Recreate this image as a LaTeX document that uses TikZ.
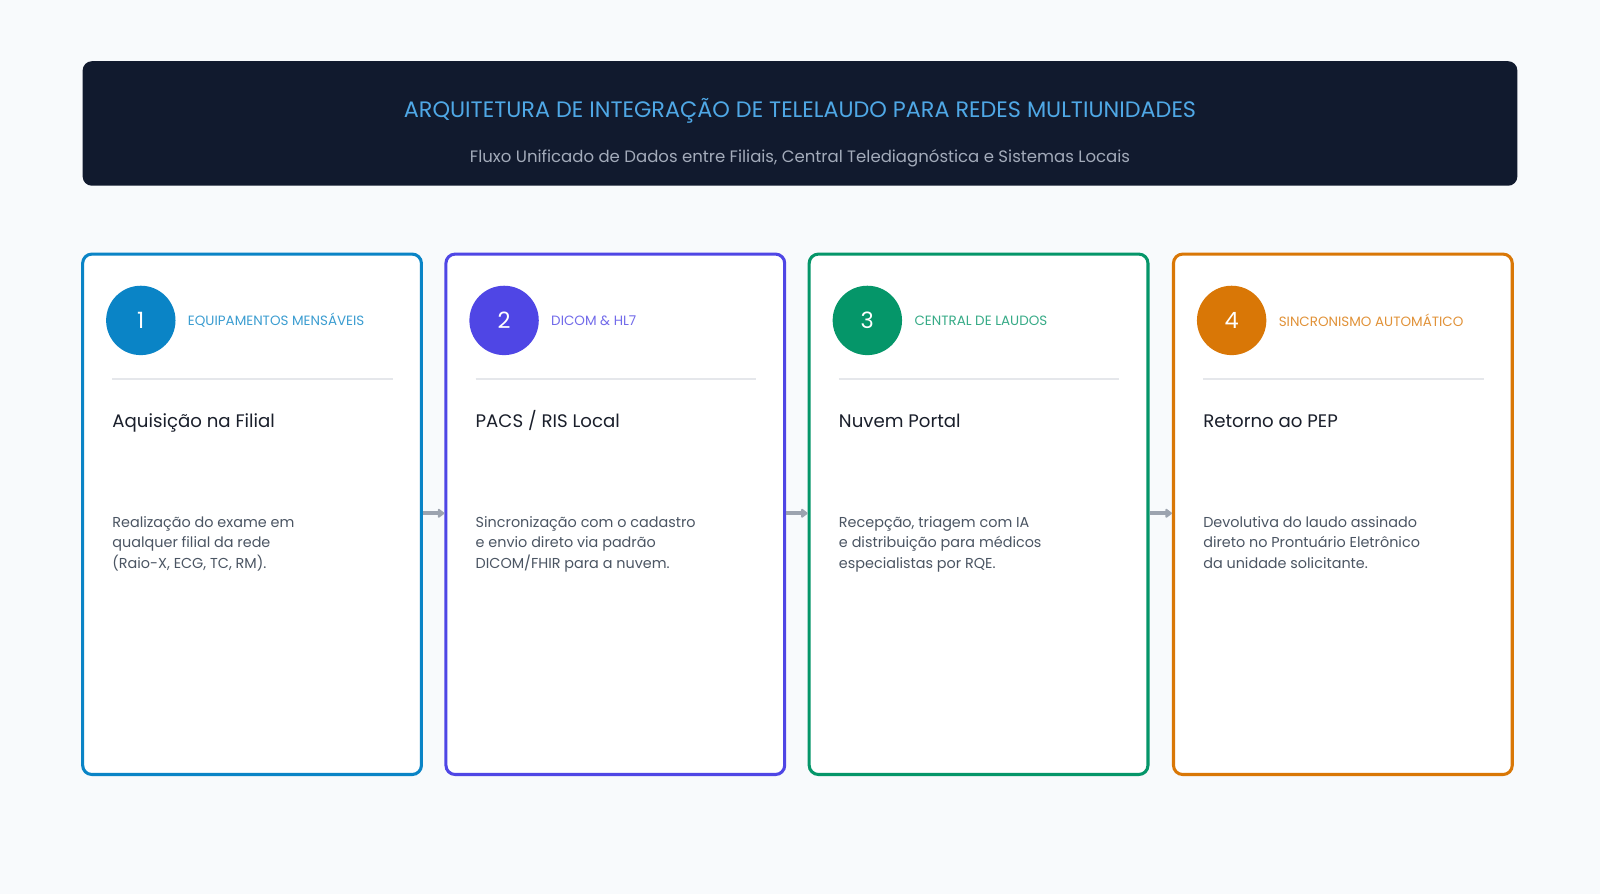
\documentclass[tikz,border=0pt]{standalone}
\usepackage{fontspec}
\setmainfont{Poppins}
\usetikzlibrary{arrows.meta}
\definecolor{bg}{HTML}{F8FAFC}
\definecolor{navy}{HTML}{111A2E}
\definecolor{titleblue}{HTML}{4FA8E6}
\definecolor{subgray}{HTML}{A3ABBA}
\definecolor{cA}{HTML}{0A84C6}
\definecolor{cB}{HTML}{4F46E5}
\definecolor{cC}{HTML}{059669}
\definecolor{cD}{HTML}{D97706}
\definecolor{divgray}{HTML}{E5E7EB}
\definecolor{ttl}{HTML}{1A1F2B}
\definecolor{desc}{HTML}{4B5563}
\definecolor{arrowgray}{HTML}{9CA3AF}
\tikzset{
  card/.style={draw=#1, line width=3pt, rounded corners=9pt, fill=white},
  badge/.style={circle, fill=#1, minimum size=68pt, inner sep=0pt, text=white, font=\fontsize{22}{26}\selectfont},
  tag/.style={anchor=west, text=#1, font=\fontsize{13.2}{16}\selectfont, inner sep=0pt},
  cardtitle/.style={anchor=base west, text=ttl, font=\fontsize{17.8}{21}\selectfont, inner sep=0pt},
  cardtext/.style={anchor=north west, text=desc, font=\fontsize{14.1}{20}\selectfont, align=left, inner sep=0pt},
  flow/.style={-{Triangle[length=7pt,width=10pt,round]}, draw=arrowgray, line width=3.5pt},
  divider/.style={draw=divgray, line width=2pt}
}
\begin{document}
\begin{tikzpicture}[x=1pt,y=-1pt]
\useasboundingbox (0,0) rectangle (1568,876);
\fill[bg] (0,0) rectangle (1568,876);
% header
\node[fill=navy, rounded corners=9pt, minimum width=1406pt, minimum height=122pt, inner sep=0pt] (header) at (784,121) {};
\node[text=titleblue, font=\fontsize{21.9}{26}\selectfont] (title) at (784,109) {ARQUITETURA DE INTEGRAÇÃO DE TELELAUDO PARA REDES MULTIUNIDADES};
\node[text=subgray, font=\fontsize{16.2}{19}\selectfont] (subtitle) at (784,155) {Fluxo Unificado de Dados entre Filiais, Central Telediagnóstica e Sistemas Locais};
% cards
\foreach \i/\xx/\c/\num/\tagtext/\ttext/\dtext in {
  1/80/cA/1/{EQUIPAMENTOS MENSÁVEIS}/{Aquisição na Filial}/{Realização do exame em\\qualquer filial da rede\\(Raio-X, ECG, TC, RM).},
  2/436/cB/2/{DICOM \& HL7}/{PACS / RIS Local}/{Sincronização com o cadastro\\e envio direto via padrão\\DICOM/FHIR para a nuvem.},
  3/792/cC/3/{CENTRAL DE LAUDOS}/{Nuvem Portal}/{Recepção, triagem com IA\\e distribuição para médicos\\especialistas por RQE.},
  4/1149/cD/4/{SINCRONISMO AUTOMÁTICO}/{Retorno ao PEP}/{Devolutiva do laudo assinado\\direto no Prontuário Eletrônico\\da unidade solicitante.}} {
  \node[card=\c, minimum width=332pt, minimum height=510pt, inner sep=0pt, anchor=north west] (card\i) at (\xx-0.5,247.5) {};
  \node[badge=\c] (badge\i) at (\xx+58,314) {\num};
  \node[tag=\c!80!white] (tag\i) at (\xx+104,314) {\tagtext};
  \coordinate (dl\i) at (\xx+30,371);
  \coordinate (dr\i) at (\xx+305,371);
  \draw[divider] (dl\i) -- (dr\i);
  \node[cardtitle] (ct\i) at (\xx+30,419) {\ttext};
  \node[cardtext] (cd\i) at (\xx+30,506) {\dtext};
}
\draw[flow] (card1.east |- 0,503) -- (card2.west |- 0,503);
\draw[flow] (card2.east |- 0,503) -- (card3.west |- 0,503);
\draw[flow] (card3.east |- 0,503) -- (card4.west |- 0,503);
\end{tikzpicture}
\end{document}
